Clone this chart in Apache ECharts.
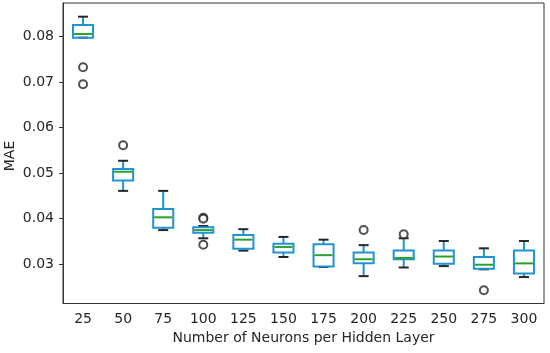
<!DOCTYPE html>
<html>
<head>
<meta charset="utf-8">
<script src="https://cdn.jsdelivr.net/npm/echarts@6/dist/echarts.min.js"></script>
<style>
html,body{margin:0;padding:0;background:#fff;}
#chart{width:550px;height:353px;}
</style>
</head>
<body>
<div id="chart"></div>
<script>
const categories = ['25','50','75','100','125','150','175','200','225','250','275','300'];
const lowWhisker  = [0.0797,0.0461,0.0375,0.0357,0.0330,0.0316,0.0294,0.0274,0.0293,0.0296,0.0289,0.0272];
const q1          = [0.0797,0.0484,0.0380,0.0369,0.0334,0.0326,0.0295,0.0302,0.0311,0.0301,0.0290,0.0280];
const median      = [0.0805,0.0503,0.0403,0.0375,0.0354,0.0338,0.0320,0.0311,0.0314,0.0317,0.0299,0.0302];
const q3          = [0.0825,0.0509,0.0421,0.0381,0.0364,0.0345,0.0344,0.0326,0.0330,0.0330,0.0316,0.0330];
const highWhisker = [0.0843,0.0527,0.0461,0.0384,0.0377,0.0360,0.0354,0.0342,0.0357,0.0351,0.0335,0.0351];
const outlierCat  = ['25','25','50','100','100','100','200','225','275'];
const outlierVal  = [0.0732,0.0695,0.0561,0.0402,0.0400,0.0343,0.0375,0.0366,0.0243];
const yTicks = [0.03,0.04,0.05,0.06,0.07,0.08];

const boxData = categories.map((c,i)=>[i, lowWhisker[i], q1[i], median[i], q3[i], highWhisker[i]]);
const outlierData = outlierCat.map((c,i)=>[categories.indexOf(c), outlierVal[i]]);

const BLUE = '#1f93d3', GREEN = '#2ca02c', CAP = '#262626';

function renderBox(params, api){
  const x = api.value(0);
  const pLow = api.coord([x, api.value(1)]);
  const pQ1 = api.coord([x, api.value(2)]);
  const pMed = api.coord([x, api.value(3)]);
  const pQ3 = api.coord([x, api.value(4)]);
  const pHigh = api.coord([x, api.value(5)]);
  const cw = api.size([1,0])[0];
  const bw = cw*0.5, capw = cw*0.25;
  const cx = pQ1[0];
  const lw = 2;
  const line = (x1,y1,x2,y2,color)=>({type:'line',shape:{x1,y1,x2,y2},style:{stroke:color,lineWidth:lw}});
  return {type:'group',children:[
    line(cx,pQ3[1],cx,pHigh[1],BLUE),
    line(cx,pQ1[1],cx,pLow[1],BLUE),
    line(cx-capw/2,pHigh[1],cx+capw/2,pHigh[1],CAP),
    line(cx-capw/2,pLow[1],cx+capw/2,pLow[1],CAP),
    {type:'rect',shape:{x:cx-bw/2,y:pQ3[1],width:bw,height:pQ1[1]-pQ3[1]},style:{fill:null,stroke:BLUE,lineWidth:lw}},
    line(cx-bw/2+1,pMed[1],cx+bw/2-1,pMed[1],GREEN)
  ]};
}

const chart = echarts.init(document.getElementById('chart'), null, {renderer:'canvas'});
const font = 'DejaVu Sans';
chart.setOption({
  backgroundColor:'#ffffff',
  animation:false,
  grid:{left:63,right:6,top:3,bottom:49.5,show:true,borderColor:'#333',borderWidth:1,backgroundColor:'#fff'},
  graphic:[{type:'text',x:10.5,y:156,rotation:Math.PI/2,
    style:{text:'MAE',fontFamily:font,fontSize:14,fill:'#262626',align:'center',verticalAlign:'middle'}}],
  xAxis:{
    type:'category',data:categories,boundaryGap:true,
    name:'Number of Neurons per Hidden Layer',nameLocation:'middle',nameGap:28,
    nameTextStyle:{fontFamily:font,fontSize:14,color:'#262626'},
    axisLine:{lineStyle:{color:'#333',width:1}},
    axisTick:{alignWithLabel:true,length:4,lineStyle:{color:'#333'}},
    axisLabel:{fontFamily:font,fontSize:14,color:'#262626',margin:9},
    splitLine:{show:false}
  },
  yAxis:{
    type:'value',min:0.0214,max:0.0873,
    axisLine:{show:true,lineStyle:{color:'#333',width:1}},
    axisTick:{show:true,length:4,lineStyle:{color:'#333'},customValues:yTicks},
    axisLabel:{fontFamily:font,fontSize:14,color:'#262626',margin:9,customValues:yTicks,formatter:v=>v.toFixed(2)},
    splitLine:{show:false}
  },
  series:[
    {type:'custom',renderItem:renderBox,data:boxData,encode:{x:0,y:[1,2,3,4,5]},z:3},
    {type:'scatter',data:outlierData,symbol:'emptyCircle',symbolSize:8,
     itemStyle:{color:'#262626',borderColor:'#262626',borderWidth:1.6},z:4}
  ]
});
</script>
</body>
</html>
